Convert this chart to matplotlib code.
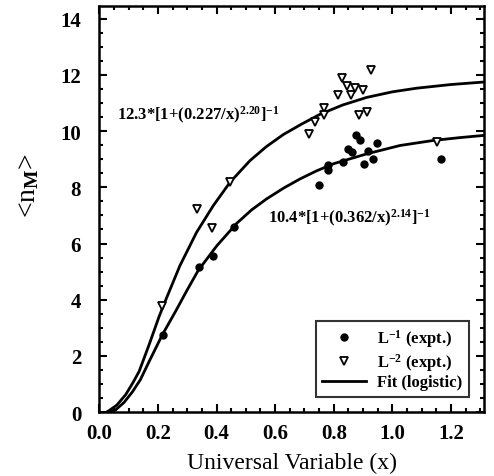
import numpy as np
import matplotlib.pyplot as plt
from matplotlib.ticker import MultipleLocator

plt.rcParams['font.family'] = ['Liberation Serif', 'DejaVu Serif']
plt.rcParams['font.weight'] = 'bold'
plt.rcParams['mathtext.fontset'] = 'custom'
plt.rcParams['mathtext.rm'] = 'Liberation Serif:bold'
plt.rcParams['mathtext.it'] = 'Liberation Serif:italic:bold'
plt.rcParams['mathtext.bf'] = 'Liberation Serif:bold'

# L^-1 experimental points (filled circles)
x_l1 = [0.218, 0.339, 0.389, 0.461, 0.750, 0.780, 0.782, 0.833, 0.848, 0.861,
        0.876, 0.890, 0.903, 0.918, 0.933, 0.947, 1.167]
y_l1 = [2.76, 5.15, 5.55, 6.60, 8.10, 8.80, 8.60, 8.92, 9.37, 9.25,
        9.87, 9.69, 8.82, 9.31, 9.01, 9.58, 9.01]

# L^-2 experimental points (open triangles)
x_l2 = [0.215, 0.333, 0.385, 0.446, 0.717, 0.735, 0.765, 0.765, 0.816, 0.829,
        0.845, 0.858, 0.873, 0.886, 0.900, 0.915, 0.926, 1.151]
y_l2 = [3.79, 7.23, 6.54, 8.18, 9.90, 10.32, 10.83, 10.59, 11.27, 11.89,
        11.60, 11.30, 11.53, 10.58, 11.45, 10.68, 12.19, 9.61]

# fit curves
x_fit2 = [0.025, 0.033, 0.060, 0.090, 0.115, 0.136, 0.170, 0.204, 0.227, 0.275,
          0.332, 0.389, 0.446, 0.514, 0.570, 0.628, 0.690, 0.753, 0.830, 0.912,
          1.000, 1.083, 1.200, 1.313]
y_fit2 = [0.0, 0.05, 0.25, 0.62, 1.05, 1.45, 2.40, 3.40, 4.00, 5.21,
          6.40, 7.35, 8.18, 8.95, 9.45, 9.88, 10.25, 10.60, 10.93, 11.20,
          11.40, 11.53, 11.66, 11.75]

x_fit1 = [0.035, 0.056, 0.085, 0.113, 0.140, 0.170, 0.215, 0.261, 0.300, 0.338,
          0.401, 0.469, 0.520, 0.571, 0.630, 0.685, 0.740, 0.799, 0.912, 1.026,
          1.140, 1.230, 1.313]
y_fit1 = [0.0, 0.08, 0.35, 0.72, 1.15, 1.80, 2.75, 3.60, 4.35, 5.05,
          5.92, 6.72, 7.20, 7.59, 7.98, 8.30, 8.58, 8.84, 9.19, 9.49,
          9.67, 9.77, 9.85]

fig = plt.figure(figsize=(4.94, 4.77), dpi=100)
ax = fig.add_axes([0.201, 0.134, 0.779, 0.851])

ax.plot(x_fit2, y_fit2, color='black', lw=2.0, label='Fit (logistic)', zorder=2,
        solid_joinstyle='round')
ax.plot(x_fit1, y_fit1, color='black', lw=2.0, zorder=2, solid_joinstyle='round')
ax.plot(x_l1, y_l1, 'o', color='black', ms=5, label='L$^{-1}$ (expt.)', zorder=3)
ax.plot(x_l2, y_l2, 'v', mfc='white', mec='black', mew=1.3, ms=5.5,
        label='L$^{-2}$ (expt.)', zorder=3)

ax.text(0.06, 10.6, '12.3*[1+(0.227/x)$^{2.20}$]$^{-1}$', fontsize=12, va='center')
ax.text(0.576, 6.94, '10.4*[1+(0.362/x)$^{2.14}$]$^{-1}$', fontsize=12, va='center')

ax.set_xlim(0, 1.313)
ax.set_ylim(0, 14.45)
ax.xaxis.set_minor_locator(MultipleLocator(0.05))
ax.yaxis.set_major_locator(MultipleLocator(2))
ax.yaxis.set_minor_locator(MultipleLocator(0.5))
ax.set_xticks(np.arange(0, 1.21, 0.2))
ax.set_xticklabels(['%.1f' % v for v in np.arange(0, 1.21, 0.2)])
ax.tick_params(which='both', direction='in', top=True, right=True, width=1.5,
               labelsize=15)
ax.tick_params(which='major', length=6)
ax.tick_params(which='minor', length=3)
ax.tick_params(axis='y', pad=13)
ax.tick_params(axis='x', pad=8)
for s in ax.spines.values():
    s.set_linewidth(1.8)

ax.set_xlabel('Universal Variable (x)', fontsize=17, va='center')
ax.xaxis.set_label_coords(0.5, -0.125)
ax.set_ylabel('<n$_{\\mathrm{M}}$>', fontsize=20)
ax.yaxis.set_label_coords(-0.15, 0.56)

h, l = ax.get_legend_handles_labels()
leg = ax.legend([h[1], h[2], h[0]], [l[1], l[2], l[0]], loc='lower right',
                fontsize=12, frameon=True, fancybox=False, edgecolor='black',
                borderaxespad=0.9, handlelength=2.6, labelspacing=0.1,
                borderpad=0.4, handletextpad=0.7)
leg.get_frame().set_linewidth(1.5)

fig.savefig('out.png', dpi=100)
